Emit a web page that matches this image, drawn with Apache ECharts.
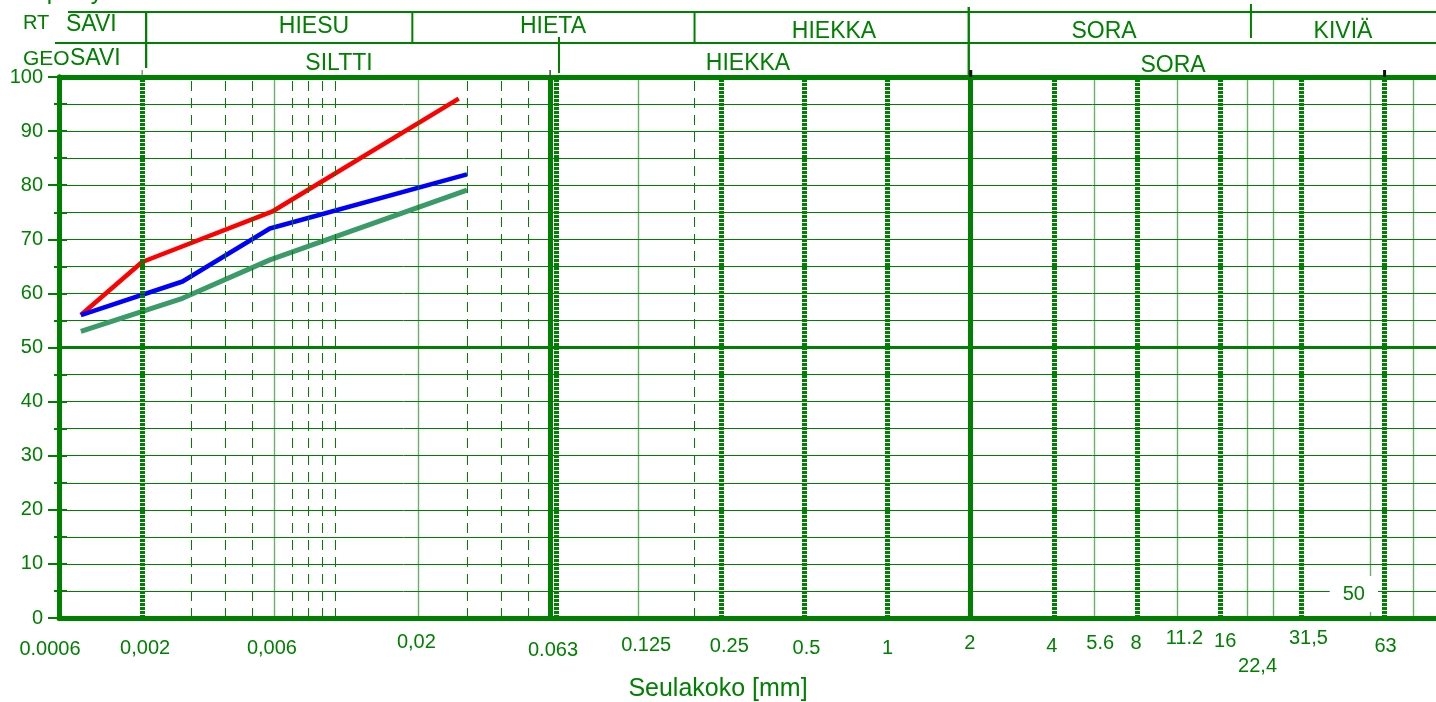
<!DOCTYPE html>
<html>
<head>
<meta charset="utf-8">
<script src="https://cdn.jsdelivr.net/npm/echarts@6/dist/echarts.min.js"></script>
<style>
  html, body { margin: 0; padding: 0; background: #fff; }
  #chart { width: 1436px; height: 702px; }
</style>
</head>
<body>
<div id="chart"></div>
<script>
// Rakeisuuskäyrät: läpäisy-% seulakoon (mm) funktiona, log-asteikko

// Näyte 1 (punainen)
const redSize = [0.0012, 0.002, 0.0059, 0.028];
const redPass = [56, 65.8, 75.1, 96];
// Näyte 2 (sininen)
const blueSize = [0.0012, 0.0028, 0.0058, 0.030];
const bluePass = [56, 62.2, 72, 82];
// Näyte 3 (vihreä)
const greenSize = [0.0012, 0.0028, 0.0058, 0.030];
const greenPass = [53, 59.1, 66.2, 79.1];

// Seulakoon asteikon tekstit
const tickValues = [0.001, 0.002, 0.006, 0.02, 0.063, 0.125, 0.25, 0.5, 1, 2, 4, 5.6, 8, 11.2, 16, 22.4, 31.5, 50, 63];
const tickTexts = ['0.0006', '0,002', '0,006', '0,02', '0.063', '0.125', '0.25', '0.5', '1', '2', '4', '5.6', '8', '11.2', '16', '22,4', '31,5', '50', '63'];

// Pystyviivat seulakoon mukaan
const solidThick = [0.06, 2];
const dottedThick = [0.002, 0.063, 0.25, 0.5, 1, 2, 4, 8, 16, 31.5, 63];
const solidThin = [0.006, 0.02, 0.125, 5.6, 11.2, 20, 25, 56, 80];
const dashedThin = [0.003, 0.004, 0.005, 0.007, 0.008, 0.009, 0.01, 0.03, 0.04, 0.05, 0.2];

// Luokitusrajat otsikkoriveillä
const rtBounds = [0.002, 0.02, 0.2, 2, 20];
const geoBounds = [0.002, 0.063, 2];

const GREEN = '#008000';
const FONT = '"Liberation Sans", Arial, sans-serif';

// Tekstien pieni siirto [dx, dy] asteikon kohdalta
const labelNudge = {
  '0.0006': [-9, 3], '0,002': [3, 2], '0,006': [-2, 2], '0,02': [-2, -4],
  '0.063': [-3, 4], '0.125': [8, -1], '0.25': [8, 0], '0.5': [2, 2], '1': [0, 2],
  '2': [-1, -3], '4': [-2, 0], '5.6': [6, -3], '8': [-1, -3], '11.2': [7, -8],
  '16': [5, -5], '22,4': [-3, 20], '31,5': [7, -8], '50': [-3, -52], '63': [1, 0]
};

const zip = (xs, ys) => xs.map((x, i) => [x, ys[i]]);

const gridMarks = [].concat(
  solidThin.map(v => ({ xAxis: v, lineStyle: { color: 'rgba(0,128,0,0.6)', width: 1.4, type: 'solid' } })),
  dashedThin.map(v => ({ xAxis: v, lineStyle: { color: GREEN, width: 1, type: [10, 7] } })),
  dottedThick.map(v => ({ xAxis: v, lineStyle: { color: GREEN, width: 5, type: [3, 1] } })),
  solidThick.map(v => ({ xAxis: v, lineStyle: { color: GREEN, width: 5, type: 'solid' } })),
  [
    { yAxis: 50, lineStyle: { color: GREEN, width: 3, type: 'solid' } },
    { yAxis: 100, lineStyle: { color: GREEN, width: 5, type: 'solid' } }
  ]
);

const chart = echarts.init(document.getElementById('chart'));

const yCommon = {
  type: 'value', min: 0, max: 100, interval: 10, position: 'left'
};

chart.setOption({
  animation: false,
  textStyle: { fontFamily: FONT },
  // kuvaaja jatkuu hieman oikean reunan yli (100 mm)
  grid: { left: 59, width: 1381, top: 77, bottom: 84, containLabel: false, outerBoundsMode: 'none' },
  xAxis: {
    type: 'log', logBase: 10, min: 0.001, max: 100,
    axisLine: { show: true, lineStyle: { color: GREEN, width: 5 } },
    axisTick: { show: false },
    axisLabel: { show: false },
    splitLine: { show: false },
    minorSplitLine: { show: false },
    name: 'Seulakoko [mm]',
    nameLocation: 'middle',
    nameGap: 59,
    nameTextStyle: { color: GREEN, fontSize: 25, fontFamily: FONT, padding: [0, 63, 0, 0] }
  },
  yAxis: [
    Object.assign({}, yCommon, {
      axisLine: { show: true, lineStyle: { color: GREEN, width: 5 } },
      axisTick: { show: true, inside: false, length: 11, lineStyle: { color: GREEN, width: 2 } },
      minorTick: { show: true, splitNumber: 2, length: 5, lineStyle: { color: GREEN, width: 2 } },
      axisLabel: { show: true, color: GREEN, fontSize: 20, fontFamily: FONT, margin: 16 },
      splitLine: { show: true, lineStyle: { color: GREEN, width: 1 } },
      minorSplitLine: { show: true, lineStyle: { color: GREEN, width: 1 } }
    }),
    Object.assign({}, yCommon, {
      axisLine: { show: true, lineStyle: { color: GREEN, width: 5 } },
      axisTick: { show: true, inside: true, length: 8, lineStyle: { color: GREEN, width: 2 } },
      minorTick: { show: true, splitNumber: 2, length: 8, lineStyle: { color: GREEN, width: 2 } },
      axisLabel: { show: false },
      splitLine: { show: false },
      minorSplitLine: { show: false }
    })
  ],
  series: [
    {
      name: 'ruudukko',
      type: 'scatter',
      data: [],
      silent: true,
      z: 2,
      markLine: {
        silent: true,
        precision: 10,
        symbol: ['none', 'none'],
        label: { show: false },
        animation: false,
        data: gridMarks
      }
    },
    {
      name: 'Näyte 1', type: 'line', z: 4, symbol: 'none', silent: true,
      data: zip(redSize, redPass),
      lineStyle: { color: '#ff0000', width: 4.5 }
    },
    {
      name: 'Näyte 2', type: 'line', z: 4, symbol: 'none', silent: true,
      data: zip(blueSize, bluePass),
      lineStyle: { color: '#0000ff', width: 4.5 }
    },
    {
      name: 'Näyte 3', type: 'line', z: 3, symbol: 'none', silent: true,
      data: zip(greenSize, greenPass),
      lineStyle: { color: '#3a9a68', width: 5 }
    },
    {
      name: 'seulakoot',
      type: 'scatter',
      z: 6,
      silent: true,
      clip: false,
      symbolSize: 1,
      itemStyle: { color: 'rgba(0,0,0,0)', opacity: 1 },
      label: { show: true, position: 'inside', color: GREEN, fontSize: 20, fontFamily: FONT, opacity: 1 },
      data: tickValues.map((v, i) => {
        const t = tickTexts[i];
        const n = labelNudge[t] || [0, 0];
        const lab = { show: true, formatter: t, offset: [n[0], 28 + n[1]] };
        if (t === '50') {
          lab.backgroundColor = '#ffffff';
          lab.padding = [8, 13];
        }
        return { value: [v, 0], label: lab };
      })
    }
  ]
});

// Otsikkotaulukko (RT- ja GEO-luokitus) asteikon kohtiin
function buildHeader() {
  const px = v => chart.convertToPixel({ xAxisIndex: 0 }, v);
  // otsikkoviivojen pieni sivuttaissiirto rajan kohdalta
  const boundShift = { 0.002: 4, 0.02: -6, 0.2: 0, 2: -2, 20: 4, 0.063: 3 };
  const line = (x1, y1, x2, y2, w, c) => ({
    type: 'line', silent: true, z: 10,
    shape: { x1, y1, x2, y2 },
    style: { stroke: c || GREEN, lineWidth: w || 2 }
  });
  const text = (s, x, y, size, align) => ({
    type: 'text', silent: true, z: 10, x, y,
    style: {
      text: s, fill: GREEN, font: size + 'px ' + FONT,
      align: align || 'center', verticalAlign: 'middle',
      textAlign: align || 'center', textVerticalAlign: 'middle'
    }
  });
  const spanRT = { 0.002: [12, 68], 0.02: [12, 43], 0.2: [12, 43], 2: [7, 75], 20: [4, 38] };
  const spanGEO = { 0.002: [12, 68], 0.063: [37, 73], 2: [7, 75] };
  const els = [
    line(68, 12, 1436, 12),
    line(55, 43, 1436, 43)
  ];
  rtBounds.forEach(v => { const s = spanRT[v]; const x = px(v) + boundShift[v]; els.push(line(x, s[0], x, s[1])); });
  geoBounds.forEach(v => { const s = spanGEO[v]; const x = px(v) + boundShift[v]; els.push(line(x, s[0], x, s[1])); });

  // pienet merkit kehyksen yläreunassa
  els.push(line(px(0.002), 70, px(0.002), 77, 1, '#555'));
  els.push(line(px(0.06), 70, px(0.06), 77, 1.5, '#444'));
  els.push(line(px(2), 70, px(2), 77, 3, '#111'));
  els.push(line(px(63), 70, px(63), 77, 3, '#111'));

  els.push(
    text('RT', 23, 23, 20, 'left'),
    text('SAVI', 66, 25, 23, 'left'),
    text('HIESU', 314, 27, 23),
    text('HIETA', 553, 27, 23),
    text('HIEKKA', 834, 31.5, 23),
    text('SORA', 1104, 31.5, 23),
    text('KIVIÄ', 1343, 31.5, 23),
    text('GEO', 23, 59, 21, 'left'),
    text('SAVI', 70, 59, 23, 'left'),
    text('SILTTI', 339, 63.5, 23),
    text('HIEKKA', 748, 63.5, 23),
    text('SORA', 1173, 66, 23),
    {
      type: 'text', silent: true, z: 10, x: 20, y: 4,
      style: {
        text: 'Läpäisy %', fill: GREEN, font: '24px ' + FONT,
        align: 'left', verticalAlign: 'bottom', textAlign: 'left', textVerticalAlign: 'bottom'
      }
    }
  );
  chart.setOption({ graphic: { elements: els } });
}
buildHeader();
</script>
</body>
</html>
